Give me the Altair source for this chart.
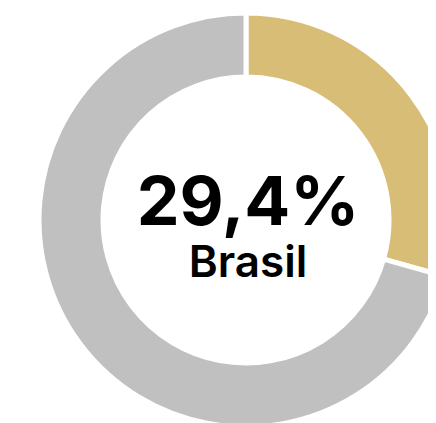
import altair as alt
import pandas as pd

categories = ["Brasil", "Outros"]
values = [29.4, 70.6]
colors = ["#d8bd77", "#c0c0c0"]
label_value = "29,4%"
label_name = "Brasil"

df = pd.DataFrame({"cat": categories, "val": values, "ord": [0, 1]})

W, H = 420, 415
CX, CY = 238, 212

arc = alt.Chart(df).mark_arc(
    outerRadius=207, innerRadius=143, stroke="white", strokeWidth=5
).encode(
    theta=alt.Theta("val:Q", stack=True),
    order=alt.Order("ord:Q"),
    color=alt.Color("cat:N", scale=alt.Scale(domain=categories, range=colors), legend=None),
    x=alt.value(CX),
    y=alt.value(CY),
)

t1 = alt.Chart(pd.DataFrame({"t": [label_value]})).mark_text(
    font="Inter", fontWeight=700, fontSize=68, align="center", baseline="alphabetic", color="black"
).encode(text="t:N", x=alt.value(240), y=alt.value(217))

t2 = alt.Chart(pd.DataFrame({"t": [label_name]})).mark_text(
    font="Inter", fontWeight=600, fontSize=44, align="center", baseline="alphabetic", color="black"
).encode(text="t:N", x=alt.value(240), y=alt.value(269))

chart = alt.layer(arc, t1, t2).properties(
    width=W, height=H, padding=0, autosize=alt.AutoSizeParams(type="none")
).configure_view(stroke=None)

chart.save("out.html", embed_options={"renderer": "svg", "actions": False})
